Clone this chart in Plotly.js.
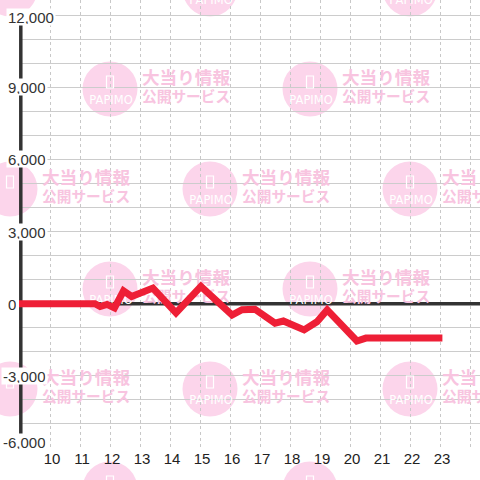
<!DOCTYPE html>
<html>
<head>
<meta charset="utf-8">
<script src="https://cdn.plot.ly/plotly-3.0.1.min.js"></script>
<style>html,body{margin:0;padding:0;background:#fff;}#chart{width:480px;height:480px;}</style>
</head>
<body>
<div id="chart"></div>
<script>
// ---- data ----
const xVals = [8.9, 11.5, 11.67, 11.9, 12.15, 12.45, 12.72, 13.43, 14.2, 15.03, 16.07, 16.4, 16.83, 17.5, 17.78, 18.47, 18.9, 19.24, 20.23, 20.53, 23.08];
const yVals = [0, 0, -120, -30, -180, 530, 300, 650, -380, 720, -470, -250, -230, -810, -720, -1090, -750, -260, -1550, -1430, -1430];
const xTicks = [10, 11, 12, 13, 14, 15, 16, 17, 18, 19, 20, 21, 22, 23, 24];
const yTickVals = [-6000, -3000, 0, 3000, 6000, 9000, 12000];
const yTickText = ["-6,000", "-3,000", "0", "3,000", "6,000", "9,000", "12,000"];
const wmLine1 = "大当り情報";
const wmLine2 = "公開サービス";
const wmLogo = "PAPIMO";

// ---- geometry helpers (layout only) ----
const W = 480, H = 480, ML = 19, MB = 32, PH = H - MB, PW = W - ML;
const xRange = [10 - 31 / 30, 24.3333];
const yRange = [-6000, 12624];
const pxToX = px => xRange[0] + (px - ML) / PW * (xRange[1] - xRange[0]);
const pyToY = py => yRange[1] - py / PH * (yRange[1] - yRange[0]);
const pxToPaperX = px => (px - ML) / PW;
const pyToPaperY = py => (PH - py) / PH;

// watermark tiles
const circles = [];
const t1x = [], t1y = [], t2x = [], t2y = [], t3x = [], t3y = [];
for (let k = 0; k < 6; k++) {
  const cy = -11 + 100 * k;
  const cols = (k % 2 === 0) ? [10, 210, 410] : [-90, 110, 310];
  cols.forEach(cx => {
    circles.push({cx, cy});
    t1x.push(pxToX(cx + 32)); t1y.push(pyToY(cy - 9));
    t2x.push(pxToX(cx + 32)); t2y.push(pyToY(cy + 9));
    t3x.push(pxToX(cx + 1)); t3y.push(pyToY(cy + 12));
  });
}

const pink = '#f8c4e0';
const traces = [
  {x: t1x, y: t1y, mode: 'text', text: t1x.map(() => wmLine1), textposition: 'middle right', cliponaxis: false,
   textfont: {family: 'Noto Sans CJK JP', size: 17.6, color: pink, weight: 'bold'}, hoverinfo: 'skip'},
  {x: t2x, y: t2y, mode: 'text', text: t2x.map(() => wmLine2), textposition: 'middle right', cliponaxis: false,
   textfont: {family: 'Noto Sans CJK JP', size: 14.7, color: pink, weight: 'bold'}, hoverinfo: 'skip'},
  {x: t3x, y: t3y, mode: 'text', text: t3x.map(() => wmLogo), textposition: 'middle center', cliponaxis: false,
   textfont: {family: 'DejaVu Sans', size: 11.5, color: '#ffffff'}, hoverinfo: 'skip'},
  {x: xVals, y: yVals, mode: 'lines', line: {color: '#ee1f36', width: 7}, hoverinfo: 'skip'}
];

const shapes = [];
circles.forEach(c => {
  shapes.push({type: 'circle', xref: 'paper', yref: 'paper', layer: 'below',
    x0: pxToPaperX(c.cx - 27.5), x1: pxToPaperX(c.cx + 27.5),
    y0: pyToPaperY(c.cy + 27.5), y1: pyToPaperY(c.cy - 27.5),
    fillcolor: '#fcd5eb', line: {width: 0}});
  shapes.push({type: 'rect', xref: 'paper', yref: 'paper', layer: 'above',
    x0: pxToPaperX(c.cx - 3.5), x1: pxToPaperX(c.cx + 3.5),
    y0: pyToPaperY(c.cy - 1), y1: pyToPaperY(c.cy - 13),
    fillcolor: 'rgba(0,0,0,0)', line: {color: '#ffffff', width: 1.2}});
});
// y axis line and zero line
shapes.push({type: 'line', xref: 'x', yref: 'y', layer: 'between',
  x0: pxToX(20.8), x1: pxToX(20.8), y0: yTickVals[0], y1: yTickVals[yTickVals.length - 1],
  line: {color: '#333333', width: 3.5}});
shapes.push({type: 'line', xref: 'x', yref: 'y', layer: 'between',
  x0: pxToX(21), x1: xRange[1], y0: 0, y1: 0,
  line: {color: '#333333', width: 3.5}});

const annotations = yTickVals.map((v, i) => ({
  xref: 'paper', yref: 'y', x: pxToPaperX(v < 0 ? 1 : 6), y: v,
  xanchor: 'left', yanchor: 'middle', showarrow: false,
  text: yTickText[i], bgcolor: '#ffffff', borderpad: 1, height: 14,
  yshift: (i === 0) ? 6 : (i === yTickVals.length - 1 ? -2 : 0),
  font: {family: 'Liberation Sans, Arial, sans-serif', size: 15, color: '#333333'}
}));

const layout = {
  width: W, height: H,
  margin: {l: ML, r: 0, t: 0, b: MB, pad: 0},
  paper_bgcolor: '#ffffff', plot_bgcolor: 'rgba(0,0,0,0)',
  showlegend: false,
  xaxis: {range: xRange, tickmode: 'array', tickvals: xTicks, ticktext: xTicks.map(String),
    showgrid: true, gridcolor: '#c8c8c8', griddash: '3px,3px', gridwidth: 1,
    zeroline: false, showline: false, ticks: '', ticklabelshift: 2,
    tickfont: {family: 'Liberation Sans, Arial, sans-serif', size: 15, color: '#222222'}, fixedrange: true},
  yaxis: {range: yRange, tickmode: 'linear', tick0: -6000, dtick: 1000,
    showgrid: true, gridcolor: '#cccccc', gridwidth: 1,
    zeroline: false, showline: false, showticklabels: false, ticks: '', fixedrange: true},
  shapes, annotations
};

Plotly.newPlot('chart', traces, layout, {staticPlot: true, displayModeBar: false});
</script>
</body>
</html>
